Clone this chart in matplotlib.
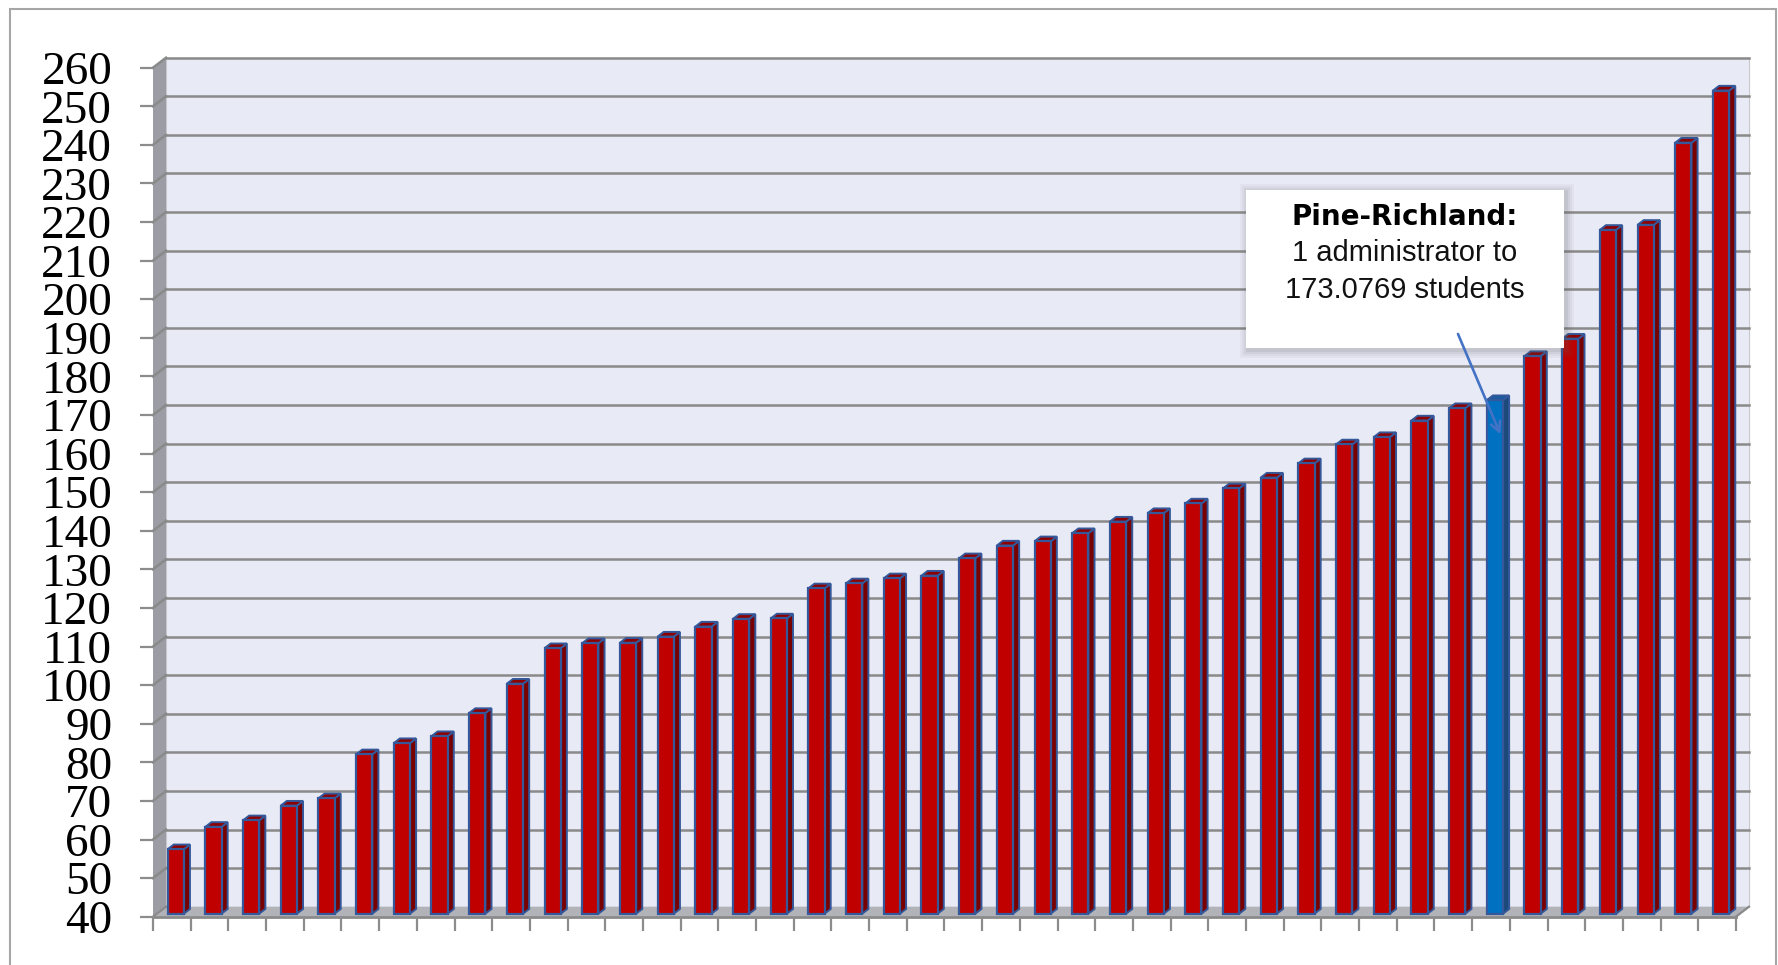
import matplotlib.pyplot as plt
from matplotlib.patches import Polygon, Rectangle
from matplotlib.transforms import IdentityTransform

# students per administrator, sorted low to high
ratios = [56.7, 62.5, 64.2, 68.0, 69.9, 81.3, 84.2, 86.0, 92.0, 99.6,
          108.8, 110.1, 110.2, 111.8, 114.4, 116.4, 116.5, 124.3, 125.6, 126.9,
          127.6, 132.1, 135.4, 136.5, 138.6, 141.6, 143.8, 146.3, 150.2, 153.0,
          156.7, 161.6, 163.5, 167.8, 171.0, 173.0769, 184.5, 189.0, 217.2, 218.5,
          239.8, 253.3]
highlight = 35  # Pine-Richland
y_ticks = list(range(40, 261, 10))
note_title = 'Pine-Richland:'
note_body = ['1 administrator to', '173.0769 students']

W, H = 1778, 965
fig = plt.figure(figsize=(W / 100, H / 100), dpi=100)
ax = fig.add_axes([153 / W, 1 - 916.7 / H, 1583 / W, (916.7 - 67.7) / H])
n = len(ratios)
ymin, ymax = 40, 260
ax.set_xlim(0, n)
ax.set_ylim(ymin, ymax)
ax.patch.set_visible(False)
for s in ax.spines.values():
    s.set_visible(False)

# depth of the 3d box in pixels
DX, DY = 13, 10
pix = IdentityTransform()


def proj(x, y, d):
    px, py = ax.transData.transform((x, y))
    return (px + DX * d, py + DY * d)


def face(pts, fc, ec='none', lw=0, z=1):
    ax.add_patch(Polygon(pts, closed=True, fc=fc, ec=ec, lw=lw,
                         transform=pix, zorder=z, clip_on=False))


def seg(p, q, **kw):
    ax.plot([p[0], q[0]], [p[1], q[1]], transform=pix, clip_on=False, **kw)


# walls and floor
face([proj(0, ymin, 1), proj(n, ymin, 1), proj(n, ymax, 1), proj(0, ymax, 1)],
     '#E8EAF6', ec='#C8C8CC', lw=0.8, z=0.5)
face([proj(0, ymin, 0), proj(0, ymax, 0), proj(0, ymax, 1), proj(0, ymin, 1)],
     '#9B9CA4', z=0.6)
face([proj(0, ymin, 0), proj(n, ymin, 0), proj(n, ymin, 1), proj(0, ymin, 1)],
     '#B2B3B9', z=0.6)

grid_c = '#8A8A8A'
for y in y_ticks[1:]:
    seg(proj(0, y, 1), proj(n, y, 1), color=grid_c, lw=1.8, zorder=0.7)
    seg(proj(0, y, 0), proj(0, y, 1), color=grid_c, lw=1.8, zorder=0.7)
seg(proj(0, ymin, 0), proj(n, ymin, 0), color=grid_c, lw=2.0, zorder=0.8)
seg(proj(n, ymin, 0), proj(n, ymin, 1), color=grid_c, lw=1.6, zorder=0.8)
seg(proj(0, ymin, 0), proj(0, ymin, 1), color=grid_c, lw=1.6, zorder=0.8)

# columns
bw, d0, d1 = 0.43, 0.3, 0.77
edge = '#34589A'
for i, v in enumerate(ratios):
    if i == highlight:
        fc, side, top = '#0070C0', '#1B4A7A', '#1A5C9E'
    else:
        fc, side, top = '#C00000', '#780000', '#8E0000'
    xa, xb = i + 0.5 - bw / 2, i + 0.5 + bw / 2
    face([proj(xb, ymin, d0), proj(xb, ymin, d1), proj(xb, v, d1), proj(xb, v, d0)],
         side, ec=edge, lw=1.4, z=2)
    face([proj(xa, v, d0), proj(xb, v, d0), proj(xb, v, d1), proj(xa, v, d1)],
         top, ec=edge, lw=1.4, z=2)
    face([proj(xa, ymin, d0), proj(xb, ymin, d0), proj(xb, v, d0), proj(xa, v, d0)],
         fc, ec=edge, lw=1.6, z=2.1)

# axes ticks
ax.set_xticks(range(n + 1))
ax.set_xticklabels([])
ax.tick_params(axis='x', length=10, width=1.6, color='#8C8C8C', direction='out')
ax.set_yticks(y_ticks)
ax.set_yticklabels([str(t) for t in y_ticks], family='Liberation Serif', fontsize=34)
ax.tick_params(axis='y', length=9.4, width=1.6, color='#8C8C8C', pad=20)

# callout box with shadow
bx0, bx1, by0, by1 = 1246, 1564, H - 348, H - 190
for k, a in enumerate([0.05, 0.06, 0.08, 0.10]):
    g = 8 - 2 * k
    ax.add_patch(Rectangle((bx0 - g + 2, by0 - g - 2), bx1 - bx0 + 2 * g, by1 - by0 + 2 * g,
                           fc='#606060', ec='none', alpha=a, transform=pix,
                           zorder=5, clip_on=False))
ax.add_patch(Rectangle((bx0, by0), bx1 - bx0, by1 - by0, fc='white', ec='none',
                       transform=pix, zorder=5.1, clip_on=False))
cx = (bx0 + bx1) / 2
ax.text(cx, H - 217, note_title, transform=pix, ha='center', va='center',
        family='DejaVu Sans', fontweight='heavy', fontsize=20, zorder=6)
for j, line in enumerate(note_body):
    ax.text(cx, H - 253 - 37 * j, line, transform=pix, ha='center', va='center',
            family='Liberation Sans', fontsize=21, color='#111111', zorder=6)

ax.annotate('', xy=(highlight + 0.75, 165), xycoords='data',
            xytext=(1458, H - 334), textcoords='figure pixels',
            arrowprops=dict(arrowstyle='->,head_length=0.7,head_width=0.35',
                            color='#4472C4', lw=1.9, shrinkA=0, shrinkB=0),
            zorder=7)

# outer frame
fig.add_artist(Rectangle((10, -20), W - 12, H - 9 + 20, fc='none', ec='#A6A6A6',
                         lw=1.5, transform=pix, zorder=-1))

fig.savefig('out.png', dpi=100)
